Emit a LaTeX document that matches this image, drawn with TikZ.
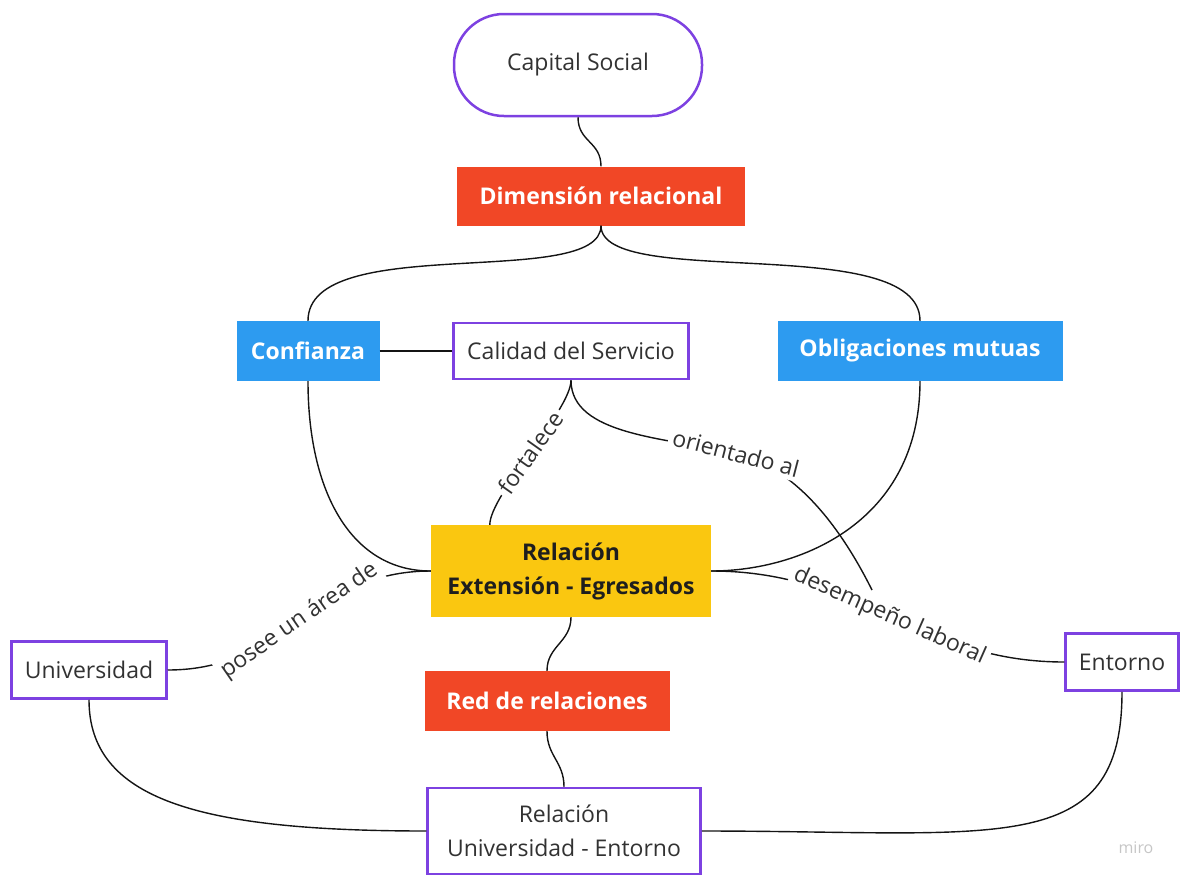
\documentclass[tikz,border=0pt]{standalone}
\usepackage{fontspec}
\setmainfont{Open Sans}
\usepackage{xcolor}
\usepackage{tikz}
\usetikzlibrary{positioning}

\definecolor{miropurple}{RGB}{125,65,225}
\definecolor{mirored}{RGB}{241,71,38}
\definecolor{miroblue}{RGB}{45,155,240}
\definecolor{miroyellow}{RGB}{250,199,16}
\definecolor{txtgray}{RGB}{50,50,50}
\definecolor{txtdark}{RGB}{30,30,30}
\definecolor{linedark}{RGB}{20,20,20}
\newcommand{\diafont}{\fontsize{23}{34}\selectfont}

\begin{document}
\begin{tikzpicture}[
    x=1pt, y=-1pt,
    every node/.style={font=\diafont, text=txtgray},
    % Box styles
    concept/.style={rectangle, draw=miropurple, line width=2.5pt, fill=white, align=center, inner sep=0pt},
    dimbox/.style={rectangle, fill=mirored, text=white, font=\diafont\bfseries, inner sep=0pt},
    factor/.style={rectangle, fill=miroblue, text=white, font=\diafont\bfseries, inner sep=0pt},
    core/.style={rectangle, fill=miroyellow, text=txtdark, font=\diafont\bfseries, align=center, inner sep=0pt},
    % Connector styles
    link/.style={line width=1.4pt, draw=linedark},
    linklabel/.style={fill=white, inner sep=4pt, sloped}
]
\useasboundingbox (0,0) rectangle (1184,876);

% Top of the map
\node[concept, rounded corners=50pt, minimum width=248pt, minimum height=102pt] (cap) at (578,65) {Capital Social};
\node[dimbox, minimum width=288pt, minimum height=59pt] (dim) at (601,196) {Dimensión relacional};

% Second level
\node[factor, minimum width=143pt, minimum height=60pt] (conf) at (308,351) {Confianza};
\node[concept, minimum width=235pt, minimum height=56pt] (cal) at (571,351) {Calidad del Servicio};
\node[factor, minimum width=285pt, minimum height=60pt] (obl) at (920,351) {Obligaciones mutuas};

% Centre
\node[core, minimum width=280pt, minimum height=92pt] (rext) at (571,571) {Relación\\Extensión - Egresados};

% Bottom part
\node[concept, minimum width=155pt, minimum height=57pt] (univ) at (89,670) {Universidad};
\node[dimbox, minimum width=245pt, minimum height=60pt] (red) at (547,701) {Red de relaciones};
\node[concept, minimum width=113pt, minimum height=57pt] (ent) at (1122,662) {Entorno};
\node[concept, minimum width=273pt, minimum height=86pt] (rue) at (564,831) {Relación\\Universidad - Entorno};

\node[text=gray!45, font=\fontsize{16}{18}\selectfont] (brand) at (1136,848) {miro};

% Free ends of the "orientado al" connector
\coordinate (oribend) at (736,453);
\coordinate (oriend) at (872,590);

% Connectors - upper part
\draw[link] (cap.south) .. controls +(0,25) and +(0,-25) .. (dim.north);
\draw[link] (dim.south) .. controls +(0,65) and +(0,-90) .. (conf.north);
\draw[link] (dim.south) .. controls +(0,65) and +(0,-90) .. (obl.north);
\draw[link] (conf.east) -- (cal.west);

% Connectors - into the centre
\draw[link] (conf.south) .. controls +(0,110) and +(-80,0) .. (rext.west);
\draw[link] (obl.south) .. controls +(0,140) and +(90,0) .. (rext.east);
\draw[link] (cal.south) .. controls +(0,30) and +(0,-30) .. node[linklabel] {fortalece} ([xshift=59pt]rext.north west);

% Labelled connectors to the sides
\draw[link] (rext.east) .. controls +(150,0) and +(-145,0) .. node[linklabel] {desempeño laboral} (ent.west);
\draw[link] (rext.west) .. controls +(-120,0) and +(120,0) .. node[linklabel] {posee un área de} (univ.east);
\draw[link] (cal.south) .. controls +(0,55) and +(-70,-15) .. (oribend)
    .. controls +(50,13) and +(-40,-80) .. node[linklabel, pos=0] {orientado al} (oriend);

% Connectors - lower part
\draw[link] (rext.south) .. controls +(0,25) and +(0,-25) .. (red.north);
\draw[link] (red.south) .. controls +(0,25) and +(0,-25) .. (rue.north);
\draw[link] (univ.south) .. controls +(0,100) and +(-227,0) .. (rue.west);
\draw[link] (ent.south) .. controls +(0,168) and +(298,0) .. (rue.east);

\end{tikzpicture}
\end{document}
